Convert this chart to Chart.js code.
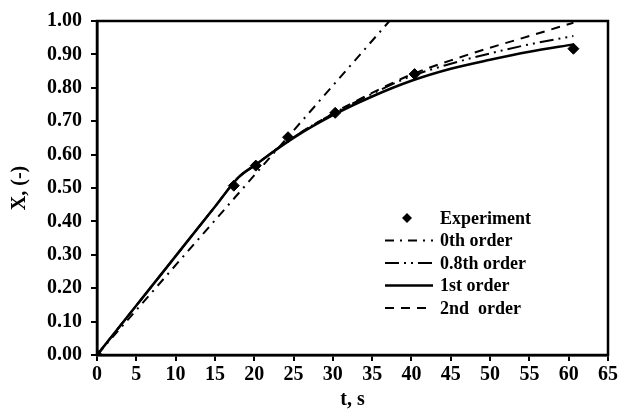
<!DOCTYPE html>
<html>
<head>
<meta charset="utf-8">
<script src="https://cdn.jsdelivr.net/npm/chart.js@4/dist/chart.umd.min.js"></script>
<style>
  html, body { margin: 0; padding: 0; background: #fff; }
  #wrap { width: 620px; height: 412px; }
</style>
</head>
<body>
<div id="wrap"><canvas id="chart" width="620" height="412"></canvas></div>
<script>
// experimental points
const tExp = [0, 17.4, 20.2, 24.3, 30.3, 40.4, 60.6];
const xExp = [0, 0.507, 0.567, 0.652, 0.725, 0.841, 0.917];

// model curves
const tZero = [0, 37.2];
const xZero = [0, 1.0];
const tModel = [0, 5, 10, 15, 18, 20, 25, 30, 35, 40, 45, 50, 55, 60.6];
const x08 = [0, 0.148, 0.296, 0.444, 0.532, 0.567, 0.652, 0.722, 0.782, 0.835, 0.872, 0.903, 0.93, 0.955];
const x1 = [0, 0.148, 0.296, 0.444, 0.532, 0.567, 0.65, 0.718, 0.774, 0.821, 0.857, 0.884, 0.908, 0.93];
const x2 = [0, 0.148, 0.296, 0.444, 0.532, 0.567, 0.652, 0.723, 0.785, 0.84, 0.882, 0.92, 0.955, 0.995];

const xTicks = [0, 5, 10, 15, 20, 25, 30, 35, 40, 45, 50, 55, 60, 65];
const yTicks = [0, 0.1, 0.2, 0.3, 0.4, 0.5, 0.6, 0.7, 0.8, 0.9, 1.0];

const FONT = "'Liberation Serif', 'Times New Roman', serif";

const pts = (xs, ys) => xs.map((x, i) => ({ x: x, y: ys[i] }));

const line = (label, xs, ys, dash, width) => ({
  label: label,
  data: pts(xs, ys),
  showLine: true,
  borderColor: "#000",
  borderWidth: width,
  borderDash: dash,
  pointRadius: 0,
  fill: false,
  cubicInterpolationMode: "monotone",
});

// box around the plot area
const frame = {
  id: "frame",
  afterDraw(chart) {
    const a = chart.chartArea;
    const ctx = chart.ctx;
    ctx.save();
    ctx.strokeStyle = "#000";
    ctx.lineWidth = 2.5;
    ctx.strokeRect(a.left, a.top, a.right - a.left, a.bottom - a.top);
    ctx.restore();
  },
};

// legend drawn inside the plot
const innerLegend = {
  id: "innerLegend",
  afterDraw(chart) {
    const ctx = chart.ctx;
    const x0 = 385, x1l = 433, tx = 440;
    let y = 218;
    ctx.save();
    ctx.font = "bold 18px " + FONT;
    ctx.textBaseline = "middle";
    ctx.fillStyle = "#000";
    chart.data.datasets.forEach((ds) => {
      ctx.strokeStyle = "#000";
      if (ds.showLine) {
        ctx.lineWidth = ds.borderWidth;
        ctx.setLineDash(ds.borderDash || []);
        ctx.beginPath();
        ctx.moveTo(x0, y);
        ctx.lineTo(x1l, y);
        ctx.stroke();
        ctx.setLineDash([]);
      } else {
        const cx = (x0 + x1l) / 2 - 2, r = 5;
        ctx.beginPath();
        ctx.moveTo(cx, y - r);
        ctx.lineTo(cx + r, y);
        ctx.lineTo(cx, y + r);
        ctx.lineTo(cx - r, y);
        ctx.closePath();
        ctx.fill();
      }
      ctx.fillText(ds.label, tx, y + 1);
      y += 22.5;
    });
    ctx.restore();
  },
};

new Chart(document.getElementById("chart"), {
  type: "scatter",
  data: {
    datasets: [
      {
        label: "Experiment",
        data: pts(tExp, xExp),
        showLine: false,
        pointStyle: "rectRot",
        pointRadius: 5.5,
        backgroundColor: "#000",
        borderColor: "#000",
      },
      line("0th order", tZero, xZero, [9, 6, 2, 6], 2),
      line("0.8th order", tModel, x08, [14, 5, 2, 5, 2, 5], 2),
      line("1st order", tModel, x1, [], 2.5),
      line("2nd  order", tModel, x2, [9, 7], 2),
    ],
  },
  options: {
    responsive: false,
    animation: false,
    events: [],
    layout: { padding: { top: 20, right: 9, left: 0, bottom: 0 } },
    plugins: { legend: { display: false }, tooltip: { enabled: false } },
    scales: {
      x: {
        type: "linear",
        min: 0,
        max: 65,
        afterBuildTicks: (s) => { s.ticks = xTicks.map((v) => ({ value: v })); },
        afterFit: (s) => { s.height = 57; },
        ticks: {
          color: "#000",
          font: { family: FONT, size: 20, weight: "bold" },
          padding: 2,
          maxRotation: 0,
        },
        grid: { drawOnChartArea: false, color: "#000", lineWidth: 2, tickLength: 6 },
        border: { color: "#000", width: 2.5 },
        title: {
          display: true,
          text: "t, s",
          color: "#000",
          font: { family: FONT, size: 20, weight: "bold" },
          padding: { top: 0, bottom: 0 },
        },
      },
      y: {
        type: "linear",
        min: 0,
        max: 1,
        afterBuildTicks: (s) => { s.ticks = yTicks.map((v) => ({ value: v })); },
        afterFit: (s) => { s.width = 97; },
        ticks: {
          color: "#000",
          font: { family: FONT, size: 20, weight: "bold" },
          padding: 9,
          callback: (v) => Number(v).toFixed(2),
        },
        grid: { drawOnChartArea: false, color: "#000", lineWidth: 2, tickLength: 6 },
        border: { color: "#000", width: 2.5 },
        title: {
          display: true,
          text: "X, (-)",
          color: "#000",
          font: { family: FONT, size: 20, weight: "bold" },
          padding: { top: 8, bottom: 0 },
        },
      },
    },
  },
  plugins: [frame, innerLegend],
});
</script>
</body>
</html>
